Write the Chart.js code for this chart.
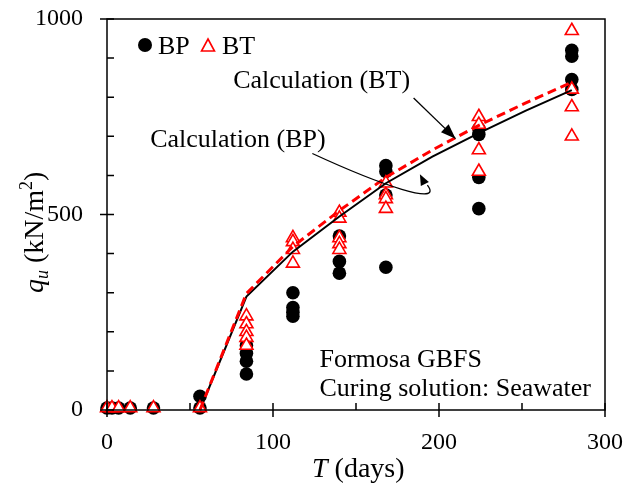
<!DOCTYPE html>
<html>
<head>
<meta charset="utf-8">
<script src="https://cdn.jsdelivr.net/npm/chart.js@4.4.1/dist/chart.umd.min.js"></script>
<style>
  html, body { margin: 0; padding: 0; background: #fff; }
  #wrap { width: 629px; height: 488px; position: relative; }
</style>
</head>
<body>
<div id="wrap"><canvas id="chart"></canvas></div>
<script>
// Measured qu for BP specimens (days, kN/m2)
const bpDays = [0, 3, 7, 14, 28, 56, 56,
  84, 84, 84, 84,
  112, 112, 112, 112,
  140, 140, 140,
  168, 168, 168, 168,
  224, 224, 224, 224,
  280, 280, 280, 280];
const bpQu = [5, 5, 5, 5, 5, 5, 35,
  165, 145, 125, 92,
  300, 262, 250, 240,
  445, 380, 350,
  625, 610, 550, 365,
  720, 705, 595, 515,
  920, 905, 845, 820];

// Measured qu for BT specimens
const btDays = [0, 3, 7, 14, 28, 56,
  84, 84, 84, 84, 84,
  112, 112, 112, 112,
  140, 140, 140, 140, 140,
  168, 168, 168, 168,
  224, 224, 224, 224,
  280, 280, 280, 280];
const btQu = [5, 5, 5, 5, 5, 5,
  240, 220, 200, 185, 165,
  440, 430, 410, 375,
  505, 490, 440, 425, 410,
  580, 550, 540, 515,
  750, 730, 665, 610,
  970, 820, 775, 700];

// Calculated curves
const calcDays = [56, 84, 112, 140, 168, 196, 224, 252, 280];
const calcBP = [0, 290, 405, 495, 580, 648, 708, 765, 818];
const calcBT = [0, 298, 418, 510, 595, 665, 728, 785, 838];

const xTicks = [0, 100, 200, 300];
const yTicks = [0, 500, 1000];

const FONT = '"Liberation Serif", "Times New Roman", serif';
const RED = '#ff0000';

function pts(xs, ys) {
  return xs.map((x, i) => ({ x: x, y: ys[i] }));
}

// стрелка: залитый наконечник
function arrowHead(ctx, fx, fy, tx, ty, len, wid) {
  const a = Math.atan2(ty - fy, tx - fx);
  ctx.beginPath();
  ctx.moveTo(tx, ty);
  ctx.lineTo(tx - len * Math.cos(a) + wid / 2 * Math.sin(a), ty - len * Math.sin(a) - wid / 2 * Math.cos(a));
  ctx.lineTo(tx - len * Math.cos(a) - wid / 2 * Math.sin(a), ty - len * Math.sin(a) + wid / 2 * Math.cos(a));
  ctx.closePath();
  ctx.fill();
}

const decor = {
  id: 'decor',
  afterDraw(chart) {
    const ctx = chart.ctx;
    const a = chart.chartArea;
    const xs = chart.scales.x, ys = chart.scales.y;
    const px = v => xs.getPixelForValue(v);
    const py = v => ys.getPixelForValue(v);
    ctx.save();
    ctx.strokeStyle = '#000';
    ctx.fillStyle = '#000';
    ctx.lineWidth = 1.5;

    // рамка
    ctx.strokeRect(a.left, a.top, a.right - a.left, a.bottom - a.top);

    // деления по оси X
    ctx.beginPath();
    for (let v = 0; v <= 300; v += 50) {
      const x = px(v);
      const major = xTicks.includes(v);
      ctx.moveTo(x, a.bottom + (major ? 7 : 0));
      ctx.lineTo(x, a.bottom - 7);
    }
    // деления по оси Y
    for (let v = 0; v <= 1000; v += 100) {
      const y = py(v);
      const major = yTicks.includes(v);
      ctx.moveTo(a.left - (major ? 7 : 0), y);
      ctx.lineTo(a.left + 7, y);
    }
    ctx.stroke();

    // легенда
    ctx.font = '26px ' + FONT;
    ctx.textBaseline = 'alphabetic';
    ctx.beginPath();
    ctx.arc(a.left + 38, a.top + 26, 7, 0, Math.PI * 2);
    ctx.fill();
    ctx.fillText('BP', a.left + 51, a.top + 35);
    ctx.strokeStyle = RED;
    ctx.lineWidth = 1.6;
    ctx.beginPath();
    ctx.moveTo(a.left + 101, a.top + 20);
    ctx.lineTo(a.left + 107.5, a.top + 32);
    ctx.lineTo(a.left + 94.5, a.top + 32);
    ctx.closePath();
    ctx.stroke();
    ctx.fillText('BT', a.left + 115, a.top + 35);

    // подписи расчетных кривых
    ctx.strokeStyle = '#000';
    ctx.lineWidth = 1.3;
    ctx.fillText('Calculation (BT)', px(76), py(847) + 9);
    ctx.beginPath();
    ctx.moveTo(px(184.7), py(798));
    ctx.lineTo(px(210), py(694));
    ctx.stroke();
    arrowHead(ctx, px(184.7), py(798), px(210), py(694), 15, 11);

    ctx.fillText('Calculation (BP)', px(26), py(696) + 9);
    ctx.beginPath();
    ctx.moveTo(px(123.7), py(656));
    ctx.bezierCurveTo(px(165), py(575), px(203), py(520), px(193), py(575));
    ctx.stroke();
    arrowHead(ctx, px(196), py(540), px(188.5), py(603), 11, 9);

    // условия испытаний
    ctx.fillText('Formosa GBFS', px(128), py(110));
    ctx.fillText('Curing solution: Seawater', px(128), py(35));

    // заголовок оси X
    ctx.textBaseline = 'alphabetic';
    let tx = 312;
    ctx.font = 'italic 28px ' + FONT;
    ctx.fillText('T', tx, 477);
    tx += ctx.measureText('T').width;
    ctx.font = '28px ' + FONT;
    ctx.fillText(' (days)', tx, 477);

    // заголовок оси Y (повернутый)
    ctx.translate(43, 293);
    ctx.rotate(-Math.PI / 2);
    let ty = 0;
    ctx.font = 'italic 28px ' + FONT;
    ctx.fillText('q', ty, 0);
    ty += ctx.measureText('q').width;
    ctx.font = 'italic 18px ' + FONT;
    ctx.fillText('u', ty, 5);
    ty += ctx.measureText('u').width;
    ctx.font = '28px ' + FONT;
    ctx.fillText(' (kN/m', ty, 0);
    ty += ctx.measureText(' (kN/m').width;
    ctx.font = '18px ' + FONT;
    ctx.fillText('2', ty, -11);
    ty += ctx.measureText('2').width;
    ctx.font = '28px ' + FONT;
    ctx.fillText(')', ty, 0);
    ctx.restore();
  }
};

new Chart(document.getElementById('chart'), {
  type: 'scatter',
  data: {
    datasets: [
      {
        label: 'Calculation (BT)',
        data: pts(calcDays, calcBT),
        showLine: true,
        borderColor: RED,
        borderWidth: 3,
        borderDash: [9, 5],
        pointRadius: 0,
        clip: false,
        order: 0
      },
      {
        label: 'Calculation (BP)',
        data: pts(calcDays, calcBP),
        showLine: true,
        borderColor: '#000',
        borderWidth: 2,
        pointRadius: 0,
        clip: false,
        order: 1
      },
      {
        label: 'BT',
        data: pts(btDays, btQu),
        pointStyle: 'triangle',
        pointRadius: 7.5,
        borderColor: RED,
        borderWidth: 1.6,
        backgroundColor: '#fff',
        clip: false,
        order: 2
      },
      {
        label: 'BP',
        data: pts(bpDays, bpQu),
        pointStyle: 'circle',
        pointRadius: 6.8,
        borderWidth: 0,
        backgroundColor: '#000',
        clip: false,
        order: 3
      }
    ]
  },
  options: {
    responsive: true,
    maintainAspectRatio: false,
    animation: false,
    events: [],
    layout: { padding: { top: 19, right: 24, left: 0, bottom: 0 } },
    plugins: { legend: { display: false }, tooltip: { enabled: false } },
    scales: {
      x: {
        type: 'linear', min: 0, max: 300,
        afterFit: s => { s.height = 78; s.paddingLeft = 0; s.paddingRight = 0; },
        ticks: { stepSize: 100, color: '#000', padding: 18, font: { family: FONT, size: 24 },
          callback: v => String(v) },
        grid: { display: false, drawTicks: false },
        border: { display: false }
      },
      y: {
        type: 'linear', min: 0, max: 1000,
        afterFit: s => { s.width = 107; s.paddingTop = 0; s.paddingBottom = 0; },
        ticks: { stepSize: 500, color: '#000', padding: 24, font: { family: FONT, size: 24 },
          callback: v => String(v) },
        grid: { display: false, drawTicks: false },
        border: { display: false }
      }
    }
  },
  plugins: [decor]
});
</script>
</body>
</html>
